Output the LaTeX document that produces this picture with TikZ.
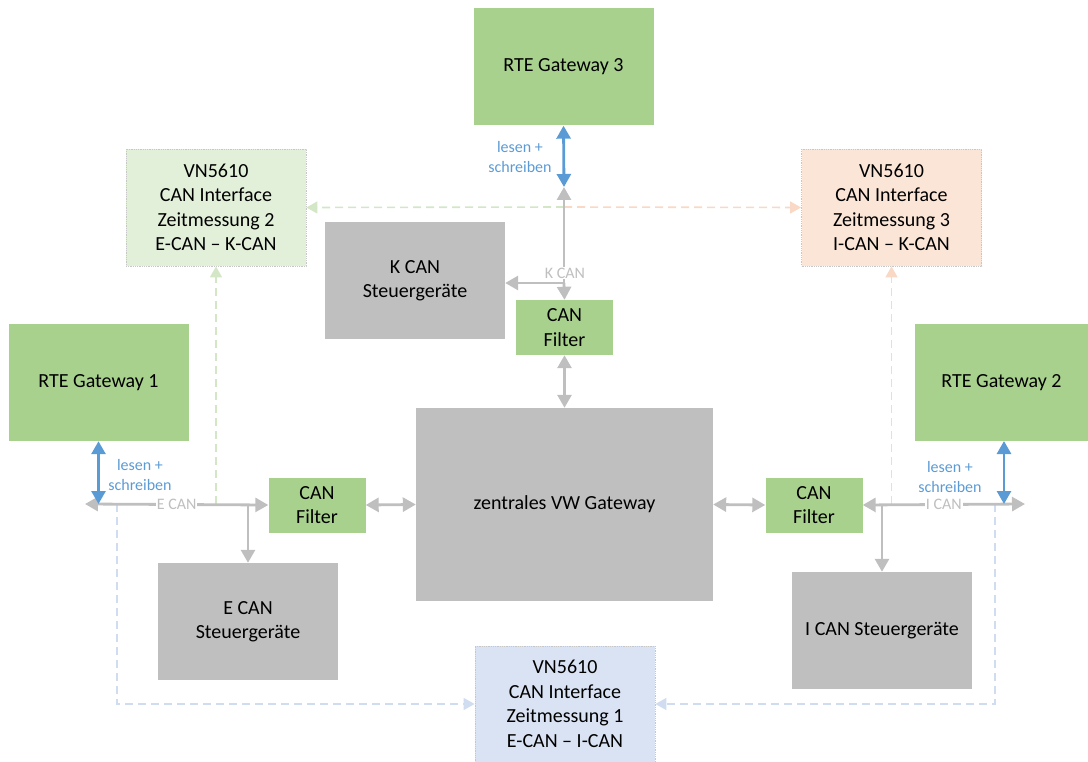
\documentclass[tikz,border=0pt]{standalone}
\usepackage{fontspec}
\setmainfont{Carlito}
\usetikzlibrary{arrows.meta}
\definecolor{gwgreen}{HTML}{A9D18E}
\definecolor{ecugray}{HTML}{BFBFBF}
\definecolor{rwblue}{HTML}{5B9BD5}
\definecolor{vngreen}{HTML}{E2F0D9}
\definecolor{vnorange}{HTML}{FBE5D6}
\definecolor{vnblue}{HTML}{DAE3F3}
\definecolor{dashgreen}{HTML}{D3E7C6}
\definecolor{dashorange}{HTML}{F9D9C5}
\definecolor{dashblue}{HTML}{D0DCF0}
\begin{document}
\begin{tikzpicture}[x=1pt, y=-1pt, font=\fontsize{20}{24.5}\selectfont,
    box/.style={minimum width=180pt, minimum height=117pt, inner sep=0pt, align=center},
    gwbox/.style={box, fill=gwgreen},
    ecubox/.style={box, fill=ecugray},
    vnbox/.style={box, draw=black!22, densely dotted, line width=0.8pt},
    filterbox/.style={fill=gwgreen, minimum width=97pt, minimum height=55pt, inner sep=0pt, align=center},
    bus/.style={draw=ecugray, line width=2.8pt, >={Triangle[length=13pt,width=14pt]}},
    rw/.style={draw=rwblue, line width=2.8pt, <->, >={Triangle[length=13pt,width=14pt]}},
    rwlabel/.style={text=rwblue, font=\fontsize{16}{19.5}\selectfont, align=center},
    buslabel/.style={text=ecugray, font=\fontsize{16}{19}\selectfont, fill=white, inner sep=1pt},
    meas/.style={line width=1.6pt, dash pattern=on 8pt off 5pt, ->, >={Triangle[length=11pt,width=12pt]}}]
    \useasboundingbox (0,0) rectangle (1088,762);

    % boxes
    \node[gwbox] (gw3) at (563.5,67) {RTE Gateway 3};
    \node[gwbox] (gw1) at (98.5,382.5) {RTE Gateway 1};
    \node[gwbox, minimum width=173pt] (gw2) at (1001.5,382.5) {RTE Gateway 2};
    \node[vnbox, fill=vngreen] (vn2) at (216,207.5) {VN5610\\CAN Interface\\Zeitmessung 2\\E-CAN -- K-CAN};
    \node[vnbox, fill=vnorange] (vn3) at (891.5,207.5) {VN5610\\CAN Interface\\Zeitmessung 3\\I-CAN -- K-CAN};
    \node[vnbox, fill=vnblue, minimum height=116pt] (vn1) at (565,704) {VN5610\\CAN Interface\\Zeitmessung 1\\E-CAN -- I-CAN};
    \node[ecubox] (kcan) at (415,280.5) {K CAN\\Steuergeräte};
    \node[ecubox] (ecan) at (248,621.5) {E CAN\\Steuergeräte};
    \node[ecubox] (ican) at (882,630.5) {I CAN Steuergeräte};
    \node[ecubox, minimum width=297pt, minimum height=193pt] (vw) at (564.5,504.5) {zentrales VW Gateway};
    \node[filterbox] (filtk) at (564.5,327.5) {CAN\\Filter};
    \node[filterbox] (filte) at (317,505) {CAN\\Filter};
    \node[filterbox] (filti) at (814,505) {CAN\\Filter};

    \coordinate (kup) at (564,187);
    \coordinate (kjoin) at (564,283);
    \coordinate (kmid) at (564,207);
    \coordinate (eleft) at (85,504);
    \coordinate (iright) at (1025,504);

    % measurement links
    \draw[meas, dashgreen] (kmid) -- (vn2.east);
    \draw[meas, dashorange] (kmid) -- (vn3.west);
    \draw[meas, dashgreen] (vn2.south |- eleft) -- (vn2.south);
    \draw[meas, dashorange] (vn3.south |- iright) -- (vn3.south);
    \draw[meas, dashblue] (117,504) |- (vn1.west);
    \draw[meas, dashblue] (995,504) |- (vn1.east);

    % K CAN
    \draw[bus, ->] (kjoin) -- (kup);
    \draw[bus, ->] (kjoin) -- (filtk.north);
    \draw[bus, ->] (kjoin) -- (kcan.east |- kjoin);
    \node[buslabel] (klabel) at (565,273) {K CAN};
    \draw[rw] (gw3.south) -- (kup);
    \node[rwlabel] (rw3) at (520,157) {lesen +\\schreiben};
    \draw[bus, <->] (filtk.south) -- (vw.north);

    % E CAN
    \draw[bus, <->] (eleft) -- node[buslabel] (elabel) {E CAN} (filte.west);
    \draw[bus, ->] (ecan.north |- eleft) -- (ecan.north);
    \draw[rw] (gw1.south) -- (gw1.south |- eleft);
    \node[rwlabel] (rw1) at (140,475) {lesen +\\schreiben};
    \draw[bus, <->] (filte.east) -- (vw.west);

    % I CAN
    \draw[bus, <->] (filti.east) -- node[buslabel] (ilabel) {I CAN} (iright);
    \draw[bus, ->] (ican.north |- iright) -- (ican.north);
    \draw[rw] (1004,441) -- (1004,504);
    \node[rwlabel] (rw2) at (950,477) {lesen +\\schreiben};
    \draw[bus, <->] (vw.east) -- (filti.west);
\end{tikzpicture}
\end{document}
